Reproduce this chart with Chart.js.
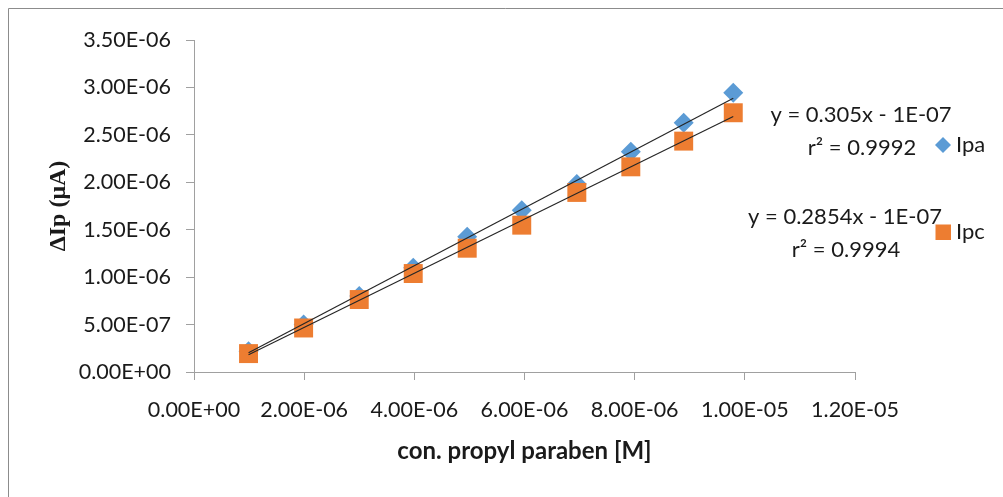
<!DOCTYPE html>
<html>
<head>
<meta charset="utf-8">
<script src="https://cdn.jsdelivr.net/npm/chart.js@4"></script>
<style>
  html, body { margin: 0; padding: 0; background: #fff; }
  canvas { display: block; }
</style>
</head>
<body>
<canvas id="chart" width="1003" height="497"></canvas>
<script>
// concentration of propyl paraben [M]
const conc = [0.99e-6, 1.99e-6, 3.0e-6, 3.98e-6, 4.96e-6, 5.95e-6, 6.95e-6, 7.93e-6, 8.89e-6, 9.79e-6];
// peak current differences
const ipa = [0.22e-6, 0.50e-6, 0.80e-6, 1.10e-6, 1.425e-6, 1.706e-6, 1.981e-6, 2.321e-6, 2.627e-6, 2.944e-6];
const ipc = [0.194e-6, 0.464e-6, 0.764e-6, 1.038e-6, 1.305e-6, 1.548e-6, 1.893e-6, 2.163e-6, 2.434e-6, 2.733e-6];

// linear fits (Ipa, Ipc)
const slopes = [0.305, 0.2854];
const intercepts = [-1e-7, -1e-7];
const interceptText = ['1E-07', '1E-07'];
const r2 = ['0.9992', '0.9994'];

const xTicks = [0, 2e-6, 4e-6, 6e-6, 8e-6, 1e-5, 1.2e-5];
const xTickLabels = ['0.00E+00', '2.00E-06', '4.00E-06', '6.00E-06', '8.00E-06', '1.00E-05', '1.20E-05'];
const yTicks = [0, 5e-7, 1e-6, 1.5e-6, 2e-6, 2.5e-6, 3e-6, 3.5e-6];
const yTickLabels = ['0.00E+00', '5.00E-07', '1.00E-06', '1.50E-06', '2.00E-06', '2.50E-06', '3.00E-06', '3.50E-06'];

const blue = '#5b9bd5';
const orange = '#ed7d31';
const textColor = '#1a1a1a';
const axisColor = '#a0a0a0';

function fitLine(k) {
  const x0 = conc[0], x1 = conc[conc.length - 1];
  return [
    { x: x0, y: slopes[k] * x0 + intercepts[k] },
    { x: x1, y: slopes[k] * x1 + intercepts[k] }
  ];
}

// frame, trendline labels and legend
const extras = {
  id: 'extras',
  afterDraw(chart) {
    const ctx = chart.ctx;
    ctx.save();
    ctx.strokeStyle = '#8c8c8c';
    ctx.lineWidth = 1;
    ctx.beginPath();
    ctx.moveTo(8.5, 497);
    ctx.lineTo(8.5, 8.5);
    ctx.lineTo(1003, 8.5);
    ctx.stroke();

    ctx.fillStyle = textColor;
    ctx.font = '22px Lato';
    ctx.textAlign = 'center';
    ctx.textBaseline = 'middle';
    ctx.fillText('y = ' + slopes[0] + 'x - ' + interceptText[0], 861, 115);
    ctx.fillText('r\u00b2 = ' + r2[0], 862, 148);
    ctx.fillText('y = ' + slopes[1] + 'x - ' + interceptText[1], 845, 217);
    ctx.fillText('r\u00b2 = ' + r2[1], 846, 250);

    // legend
    ctx.fillStyle = blue;
    ctx.beginPath();
    ctx.moveTo(943, 137);
    ctx.lineTo(951, 145);
    ctx.lineTo(943, 153);
    ctx.lineTo(935, 145);
    ctx.closePath();
    ctx.fill();
    ctx.fillStyle = orange;
    ctx.fillRect(935.5, 224.5, 15.5, 15.5);

    ctx.fillStyle = textColor;
    ctx.textAlign = 'left';
    ctx.fillText('Ipa', 956, 145);
    ctx.fillText('Ipc', 956, 232);
    ctx.restore();
  }
};

new Chart(document.getElementById('chart'), {
  type: 'scatter',
  data: {
    datasets: [
      {
        label: 'Ipa fit',
        data: fitLine(0),
        showLine: true,
        borderColor: '#262626',
        borderWidth: 1.2,
        pointRadius: 0,
        order: 0
      },
      {
        label: 'Ipc fit',
        data: fitLine(1),
        showLine: true,
        borderColor: '#262626',
        borderWidth: 1.2,
        pointRadius: 0,
        order: 0
      },
      {
        label: 'Ipc',
        data: conc.map((x, i) => ({ x: x, y: ipc[i] })),
        pointStyle: 'rect',
        pointRadius: 13.4,
        backgroundColor: orange,
        borderWidth: 0,
        order: 1
      },
      {
        label: 'Ipa',
        data: conc.map((x, i) => ({ x: x, y: ipa[i] })),
        pointStyle: 'rectRot',
        pointRadius: 10,
        backgroundColor: blue,
        borderWidth: 0,
        order: 2
      }
    ]
  },
  options: {
    responsive: false,
    devicePixelRatio: 1,
    animation: false,
    layout: { padding: { left: 0, top: 40, right: 148, bottom: 0 } },
    plugins: {
      legend: { display: false },
      tooltip: { enabled: false }
    },
    scales: {
      x: {
        type: 'linear',
        min: 0,
        max: 1.2e-5,
        afterFit: s => { s.height = 125; },
        afterBuildTicks: s => { s.ticks = xTicks.map(v => ({ value: v })); },
        grid: { drawOnChartArea: false, drawTicks: true, tickLength: 8, color: axisColor },
        border: { color: axisColor, width: 1 },
        ticks: {
          autoSkip: false,
          maxRotation: 0,
          padding: 17,
          color: textColor,
          font: { family: 'Lato', size: 21.5 },
          callback: (v, i) => xTickLabels[i]
        },
        title: {
          display: true,
          text: 'con. propyl paraben [M]',
          color: textColor,
          font: { family: 'Lato', size: 24, weight: 'bold' },
          padding: { top: 0, bottom: 31 }
        }
      },
      y: {
        type: 'linear',
        min: 0,
        max: 3.5e-6,
        afterFit: s => { s.width = 194; },
        afterBuildTicks: s => { s.ticks = yTicks.map(v => ({ value: v })); },
        grid: { drawOnChartArea: false, drawTicks: true, tickLength: 8, color: axisColor },
        border: { color: axisColor, width: 1 },
        ticks: {
          padding: 15,
          color: textColor,
          font: { family: 'Lato', size: 21.5 },
          callback: (v, i) => yTickLabels[i]
        },
        title: {
          display: true,
          text: '\u0394Ip (\u03bcA)',
          color: textColor,
          font: { family: 'Liberation Serif', size: 24, weight: 'bold' },
          padding: { top: 44, bottom: 0 }
        }
      }
    }
  },
  plugins: [extras]
});
</script>
</body>
</html>
